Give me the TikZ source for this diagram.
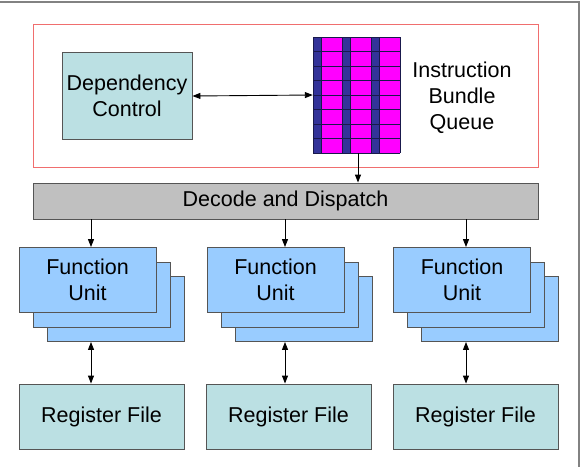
\documentclass[tikz,border=0pt]{standalone}
\usepackage{fontspec}
\setmainfont{Liberation Sans}
\usetikzlibrary{arrows.meta}
\definecolor{depc}{RGB}{187,224,227}
\definecolor{fuc}{RGB}{153,204,255}
\definecolor{barc}{RGB}{192,192,192}
\definecolor{qblue}{RGB}{51,51,153}
\definecolor{qmag}{RGB}{255,0,255}
\definecolor{redl}{RGB}{240,110,110}
\definecolor{linec}{RGB}{85,85,85}
\definecolor{framec}{RGB}{130,130,130}
\begin{document}
\begin{tikzpicture}[x=1pt,y=-1pt,
  font=\fontsize{21.5}{26}\selectfont,
  box/.style={draw=linec, line width=0.9pt, inner sep=0pt, align=center},
  fubox/.style={box, fill=fuc, minimum width=137pt, minimum height=65pt},
  rfbox/.style={box, fill=depc, minimum width=165pt, minimum height=65pt},
  arr/.style={-{Triangle[length=8pt,width=6pt]}, line width=0.9pt},
  darr/.style={{Triangle[length=8pt,width=6pt]}-{Triangle[length=8pt,width=6pt]}, line width=0.9pt}]
\useasboundingbox (0,0) rectangle (581,467);
\draw[framec, line width=1.5pt] (0,2) -- (579,2) -- (579,467);

% group box
\node[draw=redl, line width=1pt, inner sep=0pt, minimum width=505pt, minimum height=143pt] (grp) at (285.5,95.5) {};

% dependency control
\node[box, fill=depc, minimum width=130pt, minimum height=87pt] (dep) at (127,96) {Dependency\\Control};

% queue
\node[inner sep=0pt, minimum width=87pt, minimum height=116pt] (q) at (356.5,95) {};
\fill[qblue] (q.north west) rectangle (q.south east);
\fill[qmag] (321,37) rectangle (342,153);
\fill[qmag] (350,37) rectangle (371,153);
\fill[qmag] (379,37) rectangle (400,153);
\foreach \yy in {37,51.5,66,80.5,95,109.5,124,138.5,153}
  \draw[qblue!50!black, line width=0.8pt] (313,\yy) -- (400,\yy);
\foreach \xx in {313,321,342,350,371,379,400}
  \draw[qblue!50!black, line width=0.8pt] (\xx,37) -- (\xx,153);

\node[align=center, inner sep=0pt] (iq) at (462,98) {Instruction\\Bundle\\Queue};

\draw[darr] (dep.east) -- (q.west);

% decode bar
\node[box, fill=barc, minimum width=505pt, minimum height=36pt] (dd) at (285.5,201) {Decode and Dispatch};
\draw[arr] ([xshift=1.5pt]q.south) -- ([xshift=1.5pt]q.south |- dd.north);

% function units
\node[fubox] (fu1c) at (115.5,309) {};
\node[fubox] (fu1b) at (101.5,294.5) {};
\node[fubox] (fu1a) at (87.5,280) {Function\\Unit};
\node[fubox] (fu2c) at (303.5,309) {};
\node[fubox] (fu2b) at (289.5,294.5) {};
\node[fubox] (fu2a) at (275.5,280) {Function\\Unit};
\node[fubox] (fu3c) at (490,309) {};
\node[fubox] (fu3b) at (476,294.5) {};
\node[fubox] (fu3a) at (462,280) {Function\\Unit};

% register files
\node[rfbox] (rf1) at (101.5,416.5) {Register File};
\node[rfbox] (rf2) at (288.5,416.5) {Register File};
\node[rfbox] (rf3) at (475.5,416.5) {Register File};

\coordinate (c1) at (91,0);
\coordinate (c2) at (285,0);
\coordinate (c3) at (466,0);
\draw[arr] (dd.south -| c1) -- (fu1a.north -| c1);
\draw[arr] (dd.south -| c2) -- (fu2a.north -| c2);
\draw[arr] (dd.south -| c3) -- (fu3a.north -| c3);
\draw[darr] (fu1c.south -| c1) -- (rf1.north -| c1);
\draw[darr] (fu2c.south -| c2) -- (rf2.north -| c2);
\draw[darr] (fu3c.south -| c3) -- (rf3.north -| c3);
\end{tikzpicture}
\end{document}
